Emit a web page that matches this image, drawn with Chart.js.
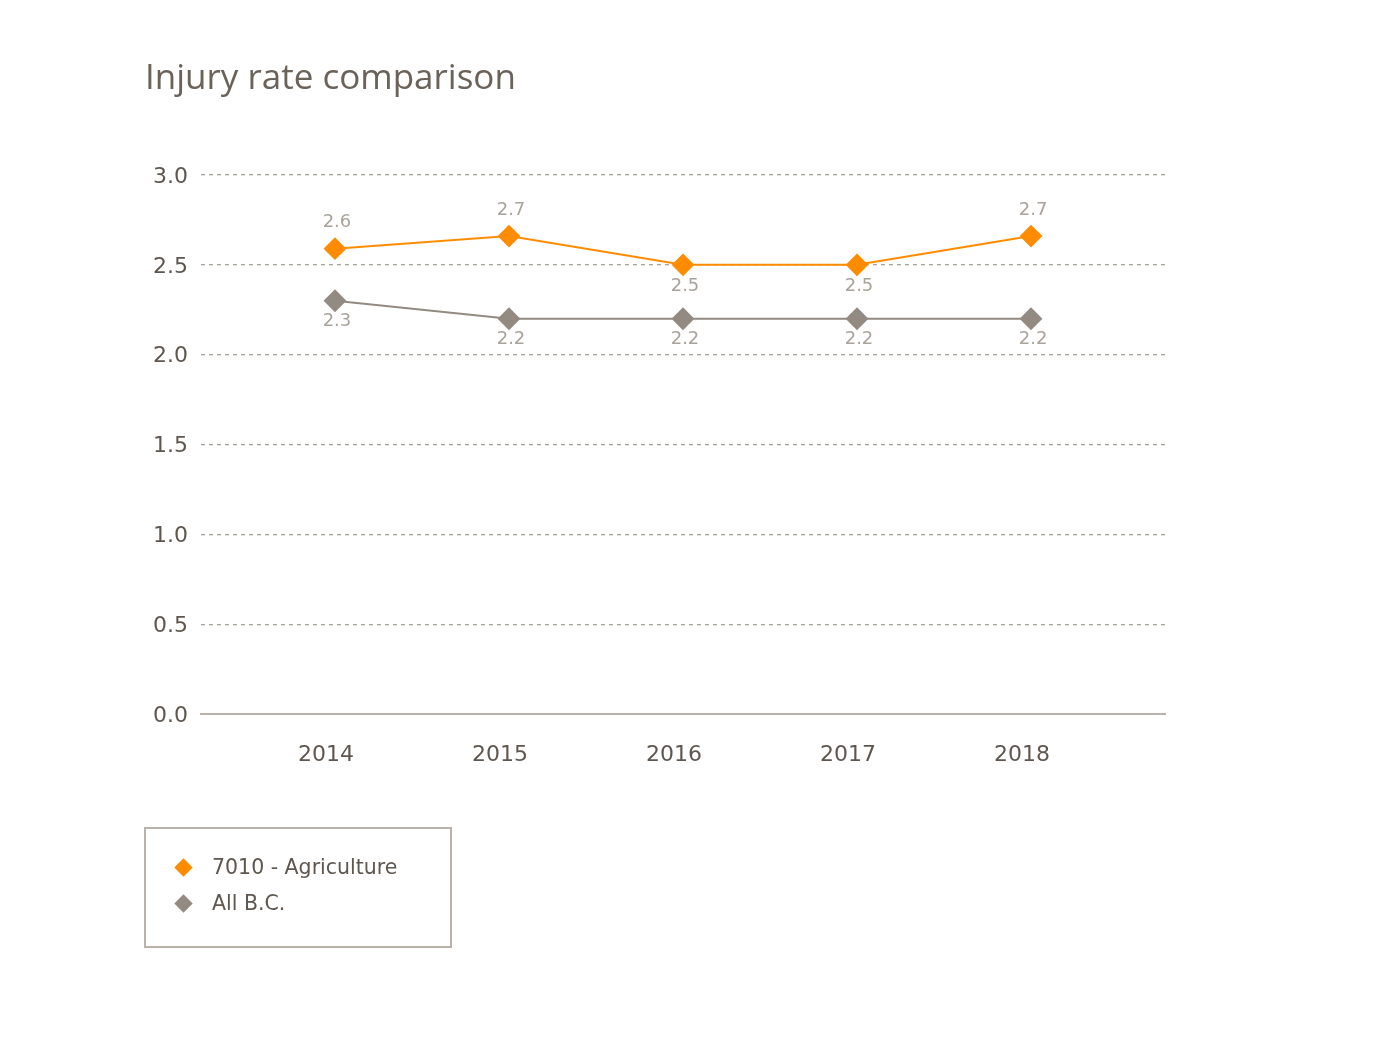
<!DOCTYPE html>
<html>
<head>
<meta charset="utf-8">
<script src="https://cdn.jsdelivr.net/npm/chart.js@4"></script>
<style>
  html, body { margin: 0; padding: 0; background: #fff; }
  #wrap { position: relative; width: 1380px; height: 1056px; }
  #chart { position: absolute; left: 0; top: 0; }
  #legend {
    position: absolute; left: 144px; top: 827px; width: 304px; height: 117px;
    border: 2px solid #b9b2ab; font-family: "DejaVu Sans", Verdana, sans-serif;
    font-size: 20.5px; color: #5f574f;
  }
  .item { position: absolute; left: 0; display: flex; align-items: center; }
  .mark { width: 13px; height: 13px; transform: rotate(45deg); margin-left: 31px; margin-right: 22px; }
</style>
</head>
<body>
<div id="wrap">
  <canvas id="chart" width="1380" height="1056"></canvas>
  <div id="legend"></div>
</div>
<script>
const years = [2014, 2015, 2016, 2017, 2018];
const agriculture = [2.59, 2.66, 2.5, 2.5, 2.66];
const allBC = [2.3, 2.2, 2.2, 2.2, 2.2];
const seriesNames = ['7010 - Agriculture', 'All B.C.'];
const seriesColors = ['#ff8c00', '#938a82'];
const yTicks = [0, 0.5, 1, 1.5, 2, 2.5, 3];

const FONT = '"DejaVu Sans", Verdana, sans-serif';

// value labels above / below points
const valueLabels = {
    id: 'valueLabels',
    afterDatasetsDraw(chart) {
        const ctx = chart.ctx;
        ctx.save();
        ctx.font = '18px ' + FONT;
        ctx.fillStyle = '#aaa39c';
        ctx.textAlign = 'center';
        ctx.textBaseline = 'middle';
        chart.data.datasets.forEach((ds, i) => {
            const meta = chart.getDatasetMeta(i);
            meta.data.forEach((pt, j) => {
                const below = ds.labelBelow[j];
                const y = below ? pt.y + 21 : pt.y - 26;
                ctx.fillText(ds.data[j].y.toFixed(1), pt.x + 2, y);
            });
        });
        ctx.restore();
    }
};

new Chart(document.getElementById('chart').getContext('2d'), {
    type: 'line',
    data: {
        datasets: [{
            label: seriesNames[0],
            data: years.map((x, i) => ({x: x, y: agriculture[i]})),
            borderColor: seriesColors[0],
            backgroundColor: seriesColors[0],
            borderWidth: 2,
            pointStyle: 'rectRot',
            pointRadius: 10,
            pointHoverRadius: 10,
            labelBelow: [false, false, true, true, false],
        }, {
            label: seriesNames[1],
            data: years.map((x, i) => ({x: x, y: allBC[i]})),
            borderColor: seriesColors[1],
            backgroundColor: seriesColors[1],
            borderWidth: 2,
            pointStyle: 'rectRot',
            pointRadius: 10,
            pointHoverRadius: 10,
            labelBelow: [true, true, true, true, true],
        }]
    },
    options: {
        responsive: false,
        animation: false,
        layout: { padding: { left: 145, right: 215, top: 54, bottom: 242 } },
        plugins: {
            legend: { display: false },
            tooltip: { enabled: false },
            title: {
                display: true,
                text: 'Injury rate comparison',
                align: 'start',
                color: '#6b6259',
                font: { family: '"Open Sans", Lato, sans-serif', size: 35, weight: 'normal' },
                padding: { top: 4, bottom: 75 }
            }
        },
        scales: {
            x: {
                type: 'linear',
                min: 2013.23,
                max: 2018.77,
                afterFit: s => { s.height = 100; },
                afterBuildTicks: s => { s.ticks = years.map(v => ({value: v})); },
                ticks: {
                    labelOffset: -9,
                    padding: 28,
                    color: '#5f574f',
                    font: { family: FONT, size: 22 },
                    callback: v => String(v)
                },
                grid: { display: false, drawTicks: false },
                border: { display: true, color: '#b9b2ab', width: 2 }
            },
            y: {
                min: 0,
                max: 3,
                afterFit: s => { s.width = 56; },
                afterBuildTicks: s => { s.ticks = yTicks.map(v => ({value: v})); },
                ticks: {
                    padding: 13,
                    labelOffset: 2,
                    color: '#5f574f',
                    font: { family: FONT, size: 22 },
                    callback: v => v.toFixed(1)
                },
                grid: {
                    drawTicks: false,
                    color: c => c.tick && c.tick.value === 0 ? 'rgba(0,0,0,0)' : '#aaa39c',
                    lineWidth: 1.3
                },
                border: { display: false, dash: [4, 4] }
            }
        }
    },
    plugins: [valueLabels]
});

// legend box
const legend = document.getElementById('legend');
seriesNames.forEach((name, i) => {
    const item = document.createElement('div');
    item.className = 'item';
    item.style.top = (i === 0 ? 26 : 62) + 'px';
    const mark = document.createElement('span');
    mark.className = 'mark';
    mark.style.background = seriesColors[i];
    const txt = document.createElement('span');
    txt.textContent = name;
    item.appendChild(mark);
    item.appendChild(txt);
    legend.appendChild(item);
});
</script>
</body>
</html>
